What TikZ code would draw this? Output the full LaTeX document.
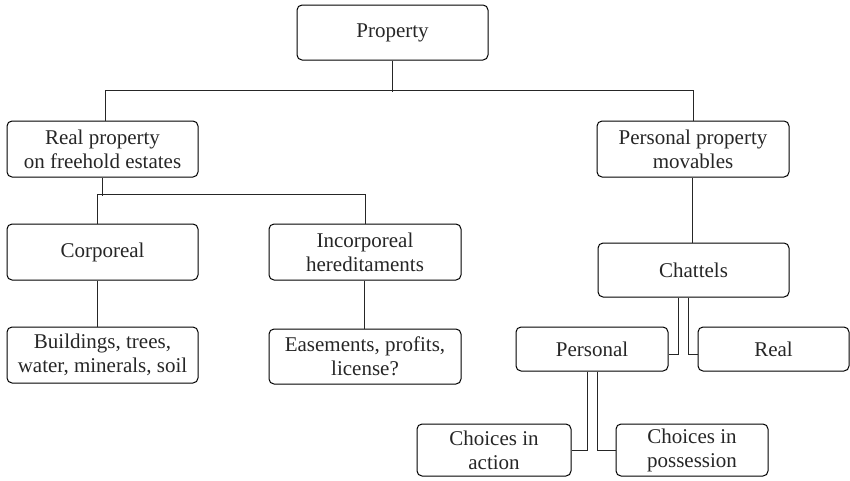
\documentclass[tikz,border=0pt]{standalone}
\usepackage{fontspec}
\setmainfont{Liberation Serif}
\begin{document}
\begin{tikzpicture}[x=1pt,y=1pt,
  box/.style={draw, line width=1pt, rounded corners=5pt, align=center, inner sep=0pt,
    font=\fontsize{21}{24}\selectfont, text=black!85},
  wire/.style={line width=1pt, draw=black!85}]
\useasboundingbox (0,0) rectangle (850,-480);
\node[box, minimum width=191pt, minimum height=55pt] (prop) at (392.5,-32.5) {Property};
\node[box, minimum width=191pt, minimum height=56pt] (rp) at (102.5,-149) {Real property\\on freehold estates};
\node[box, minimum width=192pt, minimum height=56pt] (pp) at (693,-149) {Personal property\\movables};
\node[box, minimum width=191pt, minimum height=56pt] (corp) at (102.5,-252) {Corporeal};
\node[box, minimum width=192pt, minimum height=56pt] (inc) at (365,-252) {Incorporeal\\hereditaments};
\node[box, minimum width=191pt, minimum height=56pt] (bld) at (102.5,-355) {Buildings, trees,\\water, minerals, soil};
\node[box, minimum width=192pt, minimum height=55pt] (eas) at (365,-356.5) {Easements, profits,\\license?};
\node[box, minimum width=191pt, minimum height=54pt] (ch) at (693.5,-270) {Chattels};
\node[box, minimum width=152pt, minimum height=44pt] (pe) at (592,-349) {Personal};
\node[box, minimum width=151pt, minimum height=44pt] (re) at (773.5,-349) {Real};
\node[box, minimum width=154pt, minimum height=52pt] (ca) at (494,-450) {Choices in\\action};
\node[box, minimum width=152pt, minimum height=52pt] (cp) at (692,-450) {Choices in\\possession};
% connectors
\draw[wire] (prop.south) -- ++(0,-31);
\draw[wire] ([xshift=2.5pt]rp.north) -- ++(0,30) -| (pp.north);
\draw[wire] (rp.south) -- ++(0,-18);
\draw[wire] ([xshift=-5.5pt]corp.north) -- ++(0,29) -| (inc.north);
\draw[wire] ([xshift=-5.5pt]corp.south) -- ([xshift=-5.5pt]bld.north);
\draw[wire] ([xshift=-1pt]inc.south) -- ([xshift=-1pt]eas.north);
\draw[wire] ([xshift=-1pt]pp.south) -- ([xshift=-1.5pt]ch.north);
\coordinate (pj) at ([yshift=-5pt]pe.east);
\coordinate (rj) at ([yshift=-5pt]re.west);
\draw[wire] ([xshift=-15.5pt]ch.south) |- (pj);
\draw[wire] ([xshift=-5.5pt]ch.south) |- (rj);
\draw[wire] ([xshift=-5pt]pe.south) |- (ca.east);
\draw[wire] ([xshift=5pt]pe.south) |- (cp.west);
\end{tikzpicture}
\end{document}
